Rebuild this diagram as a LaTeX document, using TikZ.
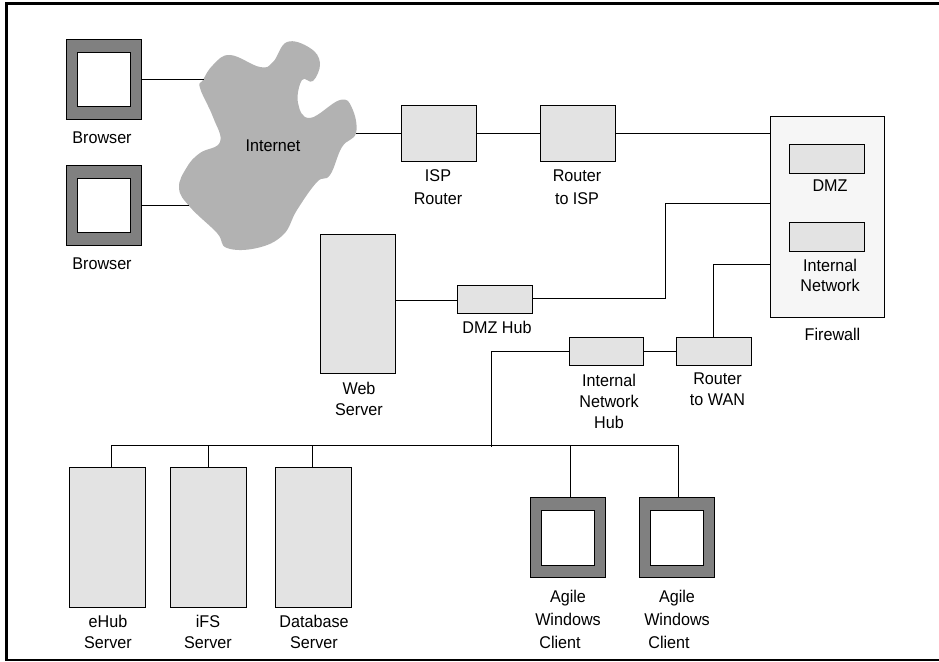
\documentclass[tikz,border=0pt]{standalone}
\usepackage{fontspec}
\setmainfont[FakeStretch=0.95]{Liberation Sans}
\definecolor{boxgray}{gray}{0.89}
\definecolor{shellgray}{gray}{0.5}
\definecolor{cloudgray}{gray}{0.7}
\definecolor{wallgray}{gray}{0.965}
\tikzset{
  lbl/.style={font=\fontsize{17}{21}\selectfont,align=center,inner sep=0pt},
  lblwide/.style={lbl,font=\fontsize{17}{23}\selectfont},
  box/.style={draw,fill=boxgray,line width=0.9pt,inner sep=0pt,outer sep=0pt,anchor=north west},
  shell/.style={draw,fill=shellgray,line width=0.9pt,inner sep=0pt,outer sep=0pt,anchor=north west,minimum width=75pt,minimum height=80pt},
  screen/.style={draw,fill=white,line width=0.9pt,inner sep=0pt,minimum width=53pt,minimum height=54pt},
  link/.style={line width=0.8pt}
}
\begin{document}
\begin{tikzpicture}[x=1pt,y=-1pt]
\useasboundingbox (0,0) rectangle (939,661);
% frame
\draw[line width=3.2pt] (6.3,660.5) -- (6.3,3.4) -- (939,3.4);
\draw[line width=1.4pt] (6.3,660) -- (939,660);
% cloud
\draw[fill=cloudgray,draw=none] plot[smooth cycle,tension=0.7] coordinates {(203,80) (213,65) (230,55) (260,67) (273,62) (287,42) (310,48) (320,63) (313,81) (302,80) (298,103) (310,118) (340,100) (352,108) (356,133) (342,147) (330,175) (317,182) (297,210) (283,235) (257,248) (227,248) (217,233) (190,207) (179,188) (187,167) (200,153) (220,142) (213,117) (200,88)};
\node[lbl] (internet) at (273,146) {Internet};
\coordinate (cloudA) at (204,79);
\coordinate (cloudB) at (189,205);
\coordinate (cloudC) at (356,133);
% browsers
\node[shell] (browserA) at (66.5,39.5) {};
\node[screen] at (104,79.5) {};
\node[lbl] at (102,138) {Browser};
\node[shell] (browserB) at (66.5,165.5) {};
\node[screen] at (104,205.5) {};
\node[lbl] at (102,263.5) {Browser};
% routers
\node[box,minimum width=75pt,minimum height=56pt] (isp) at (401,105) {};
\node[lblwide] at (438,187.5) {ISP\\Router};
\node[box,minimum width=75pt,minimum height=56pt] (toisp) at (540,105) {};
\node[lblwide] at (577,187.5) {Router\\to ISP};
% firewall
\node[box,fill=wallgray,minimum width=114.5pt,minimum height=201pt] (firewall) at (770,116) {};
\node[box,minimum width=75pt,minimum height=28.5pt] (dmz) at (789,144.5) {};
\node[lbl] at (830,186) {DMZ};
\node[box,minimum width=75pt,minimum height=28.5pt] (inner) at (789,222.5) {};
\node[lbl,font=\fontsize{17}{20}\selectfont] at (830,275) {Internal\\Network};
\node[lbl] at (832.5,334) {Firewall};
% web server and hubs
\node[box,minimum width=75pt,minimum height=139pt] (web) at (320,234) {};
\node[lbl] at (359,398.5) {Web\\Server};
\node[box,minimum width=75pt,minimum height=28pt] (dmzhub) at (457,285) {};
\node[lbl] at (497,327.5) {DMZ Hub};
\node[box,minimum width=74pt,minimum height=28pt] (inthub) at (569,337) {};
\node[lbl] at (609,401) {Internal\\Network\\Hub};
\node[box,minimum width=75pt,minimum height=28pt] (wan) at (676,337) {};
\node[lbl] at (717.5,389.5) {Router\\to WAN};
% servers
\node[box,minimum width=76pt,minimum height=140pt] (ehub) at (69,467) {};
\node[lbl] at (108,632) {eHub\\Server};
\node[box,minimum width=76pt,minimum height=140pt] (ifs) at (170,467) {};
\node[lbl] at (208,632) {iFS\\Server};
\node[box,minimum width=76pt,minimum height=140pt] (db) at (275,467) {};
\node[lbl] at (314,632) {Database\\Server};
% clients
\node[shell] (clientA) at (530.5,497) {};
\node[screen,minimum height=55pt] at (568,537.5) {};
\node[lblwide] at (568,619) {Agile\\Windows\\Client\hspace*{16pt}};
\node[shell] (clientB) at (639.5,497) {};
\node[screen,minimum height=55pt] at (677,537.5) {};
\node[lblwide] at (677,619) {Agile\\Windows\\Client\hspace*{16pt}};
% connectors
\coordinate (busL) at (111,445);
\coordinate (busJ) at (491,447);
\coordinate (busR) at (678,445);
\draw[link] (browserA.east |- 0,79) -- (cloudA);
\draw[link] (browserB.east |- 0,205) -- (cloudB);
\draw[link] (cloudC) -- (isp.west |- cloudC);
\draw[link] (isp.east |- cloudC) -- (toisp.west |- cloudC);
\draw[link] (toisp.east |- cloudC) -- (firewall.west |- cloudC);
\draw[link] (web.east |- 0,300) -- (dmzhub.west |- 0,300);
\draw[link] (dmzhub.east |- 0,298) -- (665,298) -- (665,203) -- (firewall.west |- 0,203);
\draw[link] (wan.north -| 713,0) -- (713,264) -- (firewall.west |- 0,264);
\draw[link] (inthub.east) -- (wan.west);
\draw[link] (inthub.west) -| (busJ);
\draw[link] (busL) -- (busR);
\draw[link] (busL) -- (ehub.north -| busL);
\draw[link] (208,445) -- (ifs.north -| 208,0);
\draw[link] (312,445) -- (db.north -| 312,0);
\draw[link] (570,445) -- (clientA.north -| 570,0);
\draw[link] (busR) -- (clientB.north -| busR);
\end{tikzpicture}
\end{document}
